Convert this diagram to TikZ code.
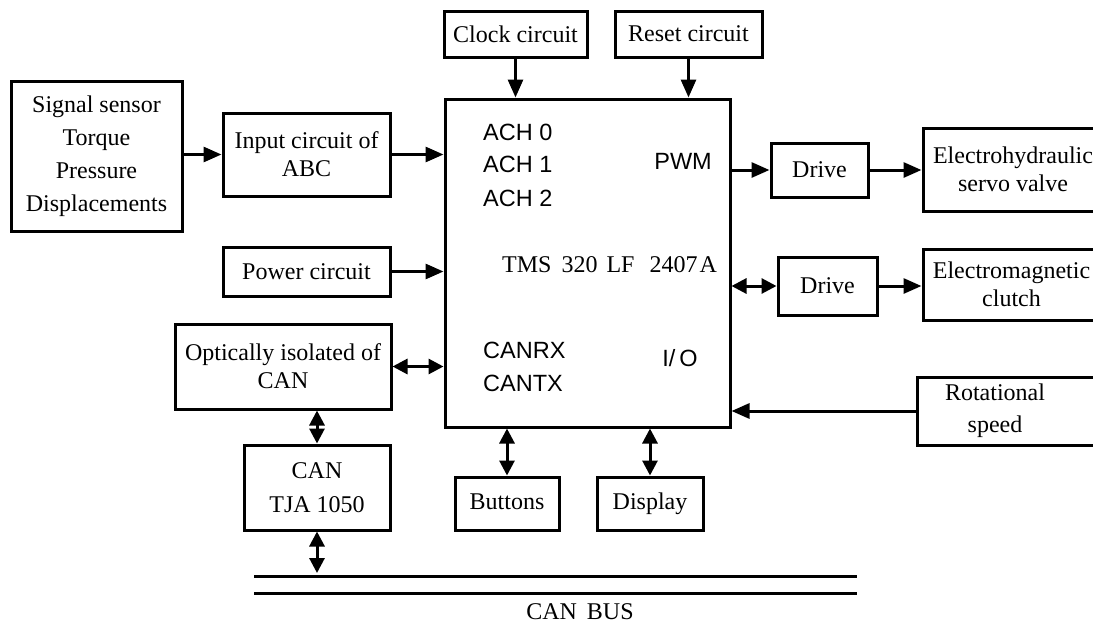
\documentclass[tikz,border=0pt]{standalone}
\usepackage{fontspec}
\setmainfont{Liberation Serif}
\setsansfont{Liberation Sans}
\usetikzlibrary{arrows.meta}
\begin{document}
\begin{tikzpicture}[x=1pt,y=-1pt,
  box/.style={draw, line width=3pt, inner sep=0pt, align=center, font=\fontsize{24}{28}\selectfont},
  txt/.style={inner sep=0pt, align=center, font=\fontsize{24}{28}\selectfont},
  stxt/.style={inner sep=0pt, font=\sffamily\fontsize{23.5}{28}\selectfont},
  arr/.style={line width=3pt, -{Triangle[length=18pt,width=15pt]}},
  darr/.style={line width=3pt, {Triangle[length=15pt,width=15pt]}-{Triangle[length=15pt,width=15pt]}},
  busline/.style={line width=3pt}]
\path[use as bounding box] (0,0) rectangle (1093,624);

% boxes
\node[box, minimum width=171pt, minimum height=150pt, font=\fontsize{24}{33}\selectfont] (sensor) at (96.5,156) {Signal sensor\\Torque\\Pressure\\Displacements};
\node[box, minimum width=167pt, minimum height=83pt] (input) at (306.5,154.5) {Input circuit of\\ABC};
\node[box, minimum width=143pt, minimum height=46pt] (clock) at (515.5,34) {Clock circuit};
\node[box, minimum width=147pt, minimum height=46pt] (reset) at (688.5,34) {Reset circuit};
\node[box, minimum width=285pt, minimum height=328pt] (main) at (587.5,263) {};
\node[box, minimum width=97pt, minimum height=54pt] (drive1) at (819.5,170) {Drive};
\node[box, minimum width=180pt, minimum height=83pt] (ehs) at (1013,169.5) {Electrohydraulic\\servo valve};
\node[box, minimum width=167pt, minimum height=49pt] (power) at (306.5,271.5) {Power circuit};
\node[box, minimum width=99pt, minimum height=58pt] (drive2) at (827.5,286) {Drive};
\node[box, minimum width=177pt, minimum height=71pt] (emc) at (1011.5,284.5) {Electromagnetic\\clutch};
\node[box, minimum width=216pt, minimum height=85pt] (opt) at (283,366.5) {Optically isolated of\\CAN};
\node[box, minimum width=190pt, minimum height=68pt] (rot) at (1012,411) {};
\node[txt, font=\fontsize{24}{32}\selectfont] (rottxt) at (995,411) {Rotational\\speed};
\node[box, minimum width=146pt, minimum height=85pt, font=\fontsize{24}{34}\selectfont] (can) at (317,487.5) {CAN\\TJA 1050};
\node[box, minimum width=104pt, minimum height=53pt, text height=16pt, text depth=5pt] (buttons) at (507,503.5) {Buttons};
\node[box, minimum width=106pt, minimum height=53pt, text height=16pt, text depth=5pt] (display) at (650,503.5) {Display};

% texts inside the processor
\node[stxt, anchor=west] (ach0) at (483,132) {ACH 0};
\node[stxt, anchor=west] (ach1) at (483,164) {ACH 1};
\node[stxt, anchor=west] (ach2) at (483,198) {ACH 2};
\node[stxt, anchor=east] (pwm) at (712,161) {PWM};
\node[txt, anchor=west] (tms) at (502,265) {TMS\hspace{10pt}320\hspace{9pt}LF\hspace{15pt}2407\hspace{2pt}A};
\node[stxt, anchor=west] (canrx) at (483,350) {CANRX};
\node[stxt, anchor=west] (cantx) at (483,383) {CANTX};
\node[stxt] (io) at (680,358) {I/\,O};

% bus
\coordinate (b1l) at (254,576);
\coordinate (b1r) at (857,576);
\coordinate (b2l) at (254,593);
\coordinate (b2r) at (857,593);
\draw[busline] (b1l) -- (b1r);
\draw[busline] (b2l) -- (b2r);
\node[txt] (buslabel) at (580,612) {CAN\hspace{10pt}BUS};

% connectors
\draw[arr] (sensor.east |- input.west) -- (input.west);
\draw[arr] (input.east) -- (input.east -| main.west);
\draw[arr] (power.east) -- (power.east -| main.west);
\draw[darr] (opt.east) -- (opt.east -| main.west);
\draw[arr] (clock.south) -- (clock.south |- main.north);
\draw[arr] (reset.south) -- (reset.south |- main.north);
\draw[arr] (main.east |- drive1.west) -- (drive1.west);
\draw[arr] (drive1.east) -- (drive1.east -| ehs.west);
\draw[darr] (main.east |- drive2.west) -- (drive2.west);
\draw[arr] (drive2.east) -- (drive2.east -| emc.west);
\draw[arr] (rot.west) -- (rot.west -| main.east);
\draw[darr] (opt.south -| can.north) -- (can.north);
\draw[darr] (can.south) -- ([yshift=3pt]can.south |- b1l);
\draw[darr] (buttons.north) -- (buttons.north |- main.south);
\draw[darr] (display.north) -- (display.north |- main.south);
\end{tikzpicture}
\end{document}
